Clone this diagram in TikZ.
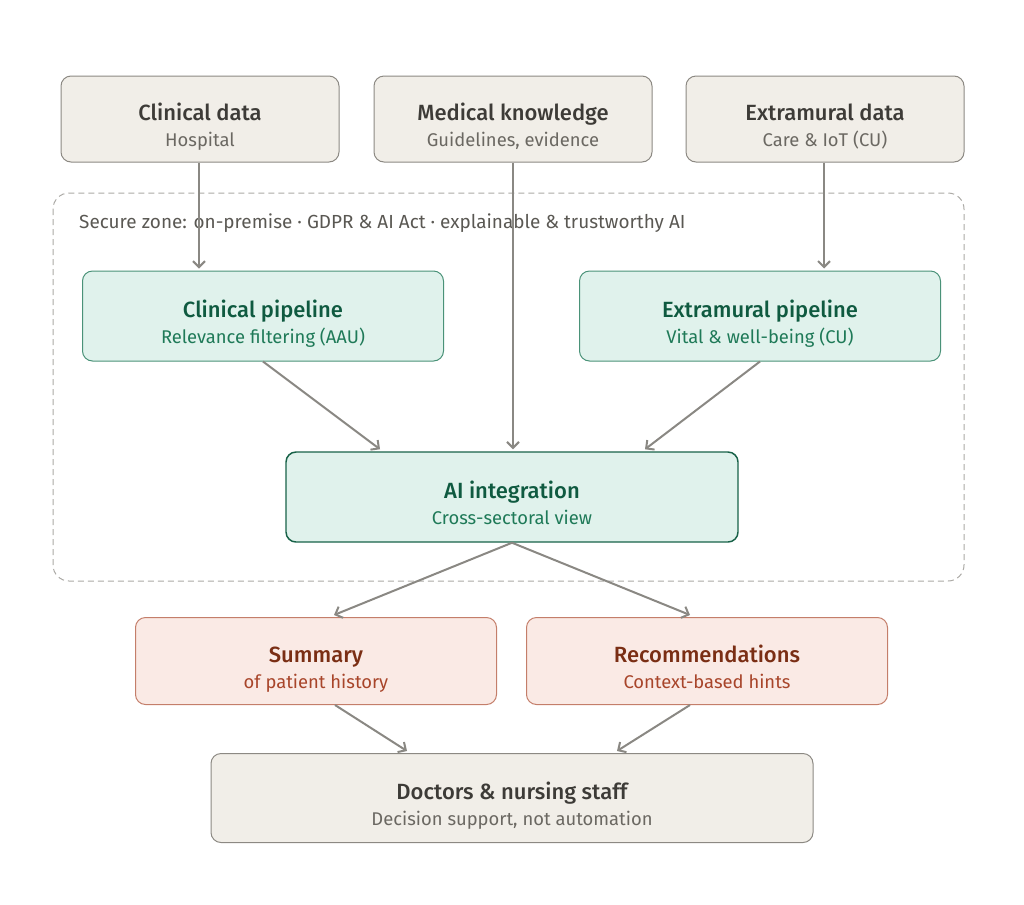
\documentclass[tikz,border=0pt]{standalone}
\usepackage{fontspec}
\setmainfont{Fira Sans}[BoldFont={Fira Sans Medium}]
\usetikzlibrary{arrows, arrows.meta, positioning}

\definecolor{graybg}{HTML}{F1EEE8}
\definecolor{grayline}{HTML}{8C8983}
\definecolor{graytitle}{HTML}{3D3B37}
\definecolor{graysub}{HTML}{6B6862}
\definecolor{greenbg}{HTML}{E0F2EC}
\definecolor{greenline}{HTML}{4A9278}
\definecolor{greentitle}{HTML}{0F5A40}
\definecolor{greensub}{HTML}{1F7A58}
\definecolor{redbg}{HTML}{FAEAE5}
\definecolor{redline}{HTML}{C47E6A}
\definecolor{redtitle}{HTML}{7A2E14}
\definecolor{redsub}{HTML}{A8452A}
\definecolor{arrowgray}{HTML}{8A8883}
\definecolor{zoneline}{HTML}{ABA9A5}
\definecolor{zonetext}{HTML}{5A5853}

% title line + subtitle line, fixed baselines
\newcommand{\boxlines}[3]{\rule{0pt}{26pt}{\fontsize{16.5}{19.5}\selectfont\bfseries #1}\\{\fontsize{13.8}{19.5}\selectfont\color{#3}#2}\rule[-5pt]{0pt}{5pt}}

\tikzstyle{sourcebox} = [rectangle, rounded corners=7.5pt, minimum width=208.5pt, minimum height=64.5pt, align=center, font=\fontsize{13.8}{19.5}\selectfont, draw=grayline, line width=0.75pt, fill=graybg, text=graytitle]
\tikzstyle{pipebox} = [sourcebox, minimum width=270.75pt, minimum height=67.5pt, draw=greenline, fill=greenbg, text=greentitle]
\tikzstyle{aibox} = [pipebox, minimum width=339pt, draw=greentitle!85!greenline, line width=1.1pt]
\tikzstyle{outbox} = [sourcebox, minimum width=270.75pt, minimum height=65.25pt, draw=redline, fill=redbg, text=redtitle]
\tikzstyle{userbox} = [sourcebox, minimum width=451.5pt, minimum height=66.75pt]
\tikzstyle{arrow} = [line width=1.5pt, draw=arrowgray, -{Straight Barb[length=4.5pt, width=9pt]}]

\begin{document}
\begin{tikzpicture}[x=0.75pt, y=-0.75pt]

    \useasboundingbox (0,0) rectangle (1024,904);

    % Zone
    \draw [zoneline, line width=0.75pt, dash pattern=on 4.5pt off 3pt, rounded corners=12pt] (53,193) rectangle (964,581);
    \node (zonelabel) [anchor=west, text=zonetext, font=\fontsize{14.2}{17}\selectfont] at (74.5,223) {Secure zone: on-premise · GDPR \& AI Act · explainable \& trustworthy AI};

    % Nodes
    \node (clinical) [sourcebox] at (200,119) {\boxlines{Clinical data}{Hospital}{graysub}};
    \node (medical) [sourcebox] at (513,119) {\boxlines{Medical knowledge}{Guidelines, evidence}{graysub}};
    \node (extra) [sourcebox] at (825,119) {\boxlines{Extramural data}{Care \& IoT (CU)}{graysub}};
    \node (clinpipe) [pipebox] at (263,316) {\boxlines{Clinical pipeline}{Relevance filtering (AAU)}{greensub}};
    \node (extrapipe) [pipebox] at (760,316) {\boxlines{Extramural pipeline}{Vital \& well-being (CU)}{greensub}};
    \node (ai) [aibox] at (512,497) {\boxlines{AI integration}{Cross-sectoral view}{greensub}};
    \node (summary) [outbox] at (316,661) {\boxlines{Summary}{of patient history}{redsub}};
    \node (recs) [outbox] at (707,661) {\boxlines{Recommendations}{Context-based hints}{redsub}};
    \node (staff) [userbox] at (512,798) {\boxlines{Doctors \& nursing staff}{Decision support, not automation}{graysub}};

    % Arrows
    \draw [arrow] ([xshift=-0.75pt]clinical.south) -- ([xshift=-0.75pt, yshift=1.5pt]clinical.south |- clinpipe.north);
    \draw [arrow] (medical.south) -- ([yshift=1.5pt]medical.south |- ai.north);
    \draw [arrow] ([xshift=-0.75pt]extra.south) -- ([xshift=-0.75pt, yshift=1.5pt]extra.south |- extrapipe.north);
    \draw [arrow] (clinpipe.south) -- ([xshift=-99pt, yshift=1.5pt]ai.north);
    \draw [arrow] (extrapipe.south) -- ([xshift=99.75pt, yshift=1.5pt]ai.north);
    \draw [arrow] (ai.south) -- ([xshift=13.5pt, yshift=1.5pt]summary.north);
    \draw [arrow] (ai.south) -- ([xshift=-12.75pt, yshift=1.5pt]recs.north);
    \draw [arrow] ([xshift=14.25pt]summary.south) -- ([xshift=-78.75pt, yshift=1.5pt]staff.north);
    \draw [arrow] ([xshift=-12.75pt]recs.south) -- ([xshift=78.75pt, yshift=1.5pt]staff.north);

\end{tikzpicture}
\end{document}
